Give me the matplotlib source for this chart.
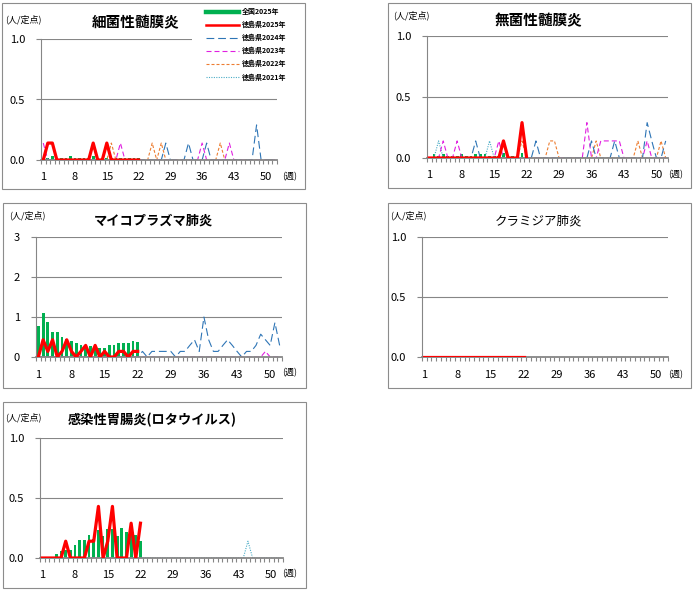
import numpy as np
import matplotlib
matplotlib.use("Agg")
import matplotlib.pyplot as plt
from matplotlib.patches import Rectangle
from matplotlib.lines import Line2D

plt.rcParams["font.family"] = ["Noto Sans CJK JP", "DejaVu Sans"]

W, H = 699, 590

WEEKS = np.arange(1, 53)
WEEK_TICKS = [1, 8, 15, 22, 29, 36, 43, 50]

LEGEND_LABELS = ["全国2025年", "徳島県2025年", "徳島県2024年",
                 "徳島県2023年", "徳島県2022年", "徳島県2021年"]

# --- 細菌性髄膜炎 ---
BACT_NAT25 = [0.02, 0.02, 0.03, 0.02, 0.02, 0.02, 0.03, 0.02, 0.02, 0.02, 0.02,
              0.03, 0.02, 0.02, 0.02, 0.02, 0.02, 0.02, 0.02, 0.02, 0.02, 0.02]
BACT_TOK25 = [0, 0.14, 0.14, 0, 0, 0, 0, 0, 0, 0, 0,
              0.14, 0, 0, 0.14, 0, 0, 0, 0, 0, 0, 0]
BACT_TOK24 = [0, 0, 0, 0, 0, 0, 0, 0, 0, 0, 0, 0, 0,
              0, 0, 0, 0, 0, 0, 0, 0, 0, 0, 0, 0, 0,
              0, 0.14, 0, 0, 0, 0, 0.14, 0, 0, 0, 0.14, 0, 0,
              0, 0, 0, 0, 0, 0, 0, 0, 0.29, 0, 0, 0, 0]
BACT_TOK23 = [0.14, 0, 0, 0, 0, 0, 0, 0, 0, 0, 0, 0, 0,
              0, 0, 0, 0, 0.14, 0, 0, 0, 0, 0, 0, 0, 0,
              0, 0, 0, 0, 0, 0, 0, 0, 0, 0.14, 0, 0, 0,
              0, 0, 0.14, 0, 0, 0, 0, 0, 0, 0, 0, 0, 0]
BACT_TOK22 = [0, 0, 0, 0, 0, 0, 0, 0, 0, 0, 0, 0, 0,
              0, 0, 0.14, 0, 0, 0, 0, 0, 0, 0, 0, 0.14, 0,
              0.14, 0, 0, 0, 0, 0, 0, 0, 0, 0, 0, 0, 0,
              0.14, 0, 0, 0, 0, 0, 0, 0, 0, 0, 0, 0, 0]

# --- 無菌性髄膜炎 ---
ASEP_NAT25 = [0.01, 0.03, 0.02, 0.03, 0.02, 0.02, 0.02, 0.03, 0.02, 0.02, 0.03,
              0.03, 0.03, 0.02, 0.02, 0.02, 0.04, 0.02, 0.02, 0.02, 0.04, 0.02]
ASEP_TOK25 = [0, 0, 0, 0, 0, 0, 0, 0, 0, 0, 0,
              0, 0, 0, 0, 0, 0.14, 0, 0, 0, 0.29, 0]
ASEP_TOK24 = [0, 0, 0, 0, 0, 0, 0, 0, 0, 0, 0.14, 0, 0,
              0, 0, 0, 0, 0, 0, 0, 0, 0, 0, 0.14, 0, 0,
              0, 0, 0, 0, 0, 0, 0, 0, 0, 0.14, 0, 0, 0,
              0, 0.14, 0, 0, 0, 0, 0, 0, 0.29, 0.14, 0, 0, 0.14]
ASEP_TOK23 = [0, 0, 0, 0.14, 0, 0, 0.14, 0, 0, 0, 0, 0, 0,
              0, 0, 0.14, 0, 0, 0, 0, 0, 0, 0, 0, 0, 0,
              0, 0, 0, 0, 0, 0, 0, 0, 0.29, 0, 0, 0.14, 0.14,
              0.14, 0.14, 0.14, 0, 0, 0, 0, 0, 0.14, 0, 0, 0, 0]
ASEP_TOK22 = [0, 0, 0, 0, 0, 0, 0, 0, 0, 0, 0, 0, 0,
              0, 0, 0, 0, 0, 0, 0, 0.14, 0, 0, 0, 0, 0,
              0.14, 0.14, 0, 0, 0, 0, 0, 0, 0, 0, 0.14, 0, 0,
              0, 0, 0, 0, 0, 0, 0.14, 0, 0, 0, 0, 0.14, 0]
ASEP_TOK21 = [0, 0, 0.14, 0, 0, 0, 0, 0, 0, 0, 0, 0, 0,
              0.14, 0, 0, 0, 0, 0, 0, 0, 0, 0, 0, 0, 0,
              0, 0, 0, 0, 0, 0, 0, 0, 0, 0, 0, 0, 0,
              0, 0, 0, 0, 0, 0, 0, 0, 0, 0, 0, 0, 0]

# --- マイコプラズマ肺炎 ---
MYCO_NAT25 = [0.78, 1.10, 0.87, 0.63, 0.63, 0.50, 0.46, 0.39, 0.36, 0.29, 0.28,
              0.27, 0.25, 0.23, 0.23, 0.31, 0.29, 0.34, 0.34, 0.34, 0.39, 0.37]
MYCO_TOK25 = [0, 0.43, 0.14, 0.43, 0, 0.14, 0.43, 0.14, 0, 0.14, 0.29,
              0, 0.29, 0, 0.14, 0, 0, 0.14, 0.14, 0, 0.14, 0.14]
MYCO_TOK24 = [0, 0, 0, 0, 0, 0, 0, 0, 0, 0, 0, 0, 0,
              0, 0, 0, 0, 0, 0, 0, 0, 0, 0.14, 0, 0.14, 0.14,
              0.14, 0.14, 0.14, 0, 0.14, 0.14, 0.29, 0.43, 0.14, 1.0, 0.43, 0.14, 0.14,
              0.29, 0.43, 0.29, 0.14, 0, 0.14, 0.14, 0.29, 0.57, 0.43, 0.29, 0.86, 0.29]
MYCO_TOK23 = [0, 0, 0, 0, 0, 0, 0, 0, 0, 0, 0, 0, 0,
              0, 0, 0, 0, 0, 0, 0, 0, 0, 0, 0, 0, 0,
              0, 0, 0, 0, 0, 0, 0, 0, 0, 0, 0, 0, 0,
              0, 0, 0, 0, 0, 0, 0, 0, 0, 0.14, 0, 0, 0]

# --- クラミジア肺炎 ---
CHLA_NAT25 = [0, 0, 0, 0, 0, 0, 0, 0, 0, 0, 0,
              0, 0, 0, 0, 0, 0, 0, 0, 0, 0, 0]
CHLA_TOK25 = [0, 0, 0, 0, 0, 0, 0, 0, 0, 0, 0,
              0, 0, 0, 0, 0, 0, 0, 0, 0, 0, 0]

# --- 感染性胃腸炎(ロタウイルス) ---
ROTA_NAT25 = [0.01, 0.01, 0.01, 0.03, 0.06, 0.07, 0.07, 0.11, 0.15, 0.15, 0.19,
              0.16, 0.23, 0.18, 0.24, 0.24, 0.18, 0.25, 0.22, 0.19, 0.19, 0.14]
ROTA_TOK25 = [0, 0, 0, 0, 0, 0.14, 0, 0, 0, 0, 0.14,
              0.14, 0.43, 0, 0.14, 0.43, 0, 0, 0, 0.29, 0, 0.29]
ROTA_TOK21 = [0, 0, 0, 0, 0, 0, 0, 0, 0, 0, 0, 0, 0,
              0, 0, 0, 0, 0, 0, 0, 0, 0, 0, 0, 0, 0,
              0, 0, 0, 0, 0, 0, 0, 0, 0, 0, 0, 0, 0,
              0, 0, 0, 0, 0, 0.14, 0, 0, 0, 0, 0, 0, 0]

C_NAT = "#00B050"
C_25 = "#FF0000"
GRID = "#868686"
BORDER = "#8c8c8c"
STYLES = {
    "2024": dict(color="#2E75B6", lw=0.8, dashes=(7, 3.5)),
    "2023": dict(color="#E020E0", lw=0.8, dashes=(4.5, 2.7)),
    "2022": dict(color="#ED7D31", lw=0.8, dashes=(2.7, 1.8)),
    "2021": dict(color="#4BACC6", lw=0.8, dashes=(1, 1.2)),
}


def to_fig(l, t, r, b):
    return [l / W, 1 - b / H, (r - l) / W, (b - t) / H]


def draw_panel(box, area, title, tpos, tsize, tweight, unit_xy, week_xy,
               ymax, yticks, ylabels, nat, tok25, past):
    fig.add_artist(Rectangle((box[0] / W, 1 - box[3] / H),
                             (box[2] - box[0]) / W, (box[3] - box[1]) / H,
                             transform=fig.transFigure, fill=False,
                             ec=BORDER, lw=0.8))
    ax = fig.add_axes(to_fig(*area))
    ax.bar(WEEKS[:len(nat)], nat, width=0.6, color=C_NAT, zorder=2)
    for vals, key in past:
        ax.plot(WEEKS[:len(vals)], vals, zorder=2, **STYLES[key])
    ax.plot(WEEKS[:len(tok25)], tok25, color=C_25, lw=2.3, zorder=3)

    ax.set_xlim(0.5, 52.5)
    ax.set_ylim(0, ymax)
    for s in ("top", "right"):
        ax.spines[s].set_visible(False)
    for s in ("left", "bottom"):
        ax.spines[s].set_color(GRID)
        ax.spines[s].set_zorder(2.6)
    ax.spines["left"].set_linewidth(0.8)
    # thicker bottom axis hides the zero stretches of the past-year lines
    ax.spines["bottom"].set_linewidth(1.3)
    ax.set_yticks(yticks)
    ax.set_yticklabels(ylabels)
    ax.yaxis.grid(True, color=GRID, lw=0.8)
    ax.set_axisbelow(True)
    ax.tick_params(axis="y", length=3.5, width=0.8, color=GRID, pad=8, labelsize=8)
    ax.set_xticks(WEEK_TICKS)
    ax.set_xticks(np.arange(0.5, 53, 1), minor=True)
    ax.tick_params(axis="x", which="major", length=0, pad=9, labelsize=8)
    ax.tick_params(axis="x", which="minor", length=3, width=0.8, color=GRID)

    fig.text(tpos[0] / W, 1 - tpos[1] / H, title, ha="center", va="center",
             fontsize=tsize, fontweight=tweight)
    fig.text(unit_xy[0] / W, 1 - unit_xy[1] / H, "(人/定点)", ha="left",
             va="center", fontsize=6.5)
    fig.text(week_xy[0] / W, 1 - week_xy[1] / H, "(週)", ha="left",
             va="center", fontsize=6.5)
    return ax


fig = plt.figure(figsize=(W / 100, H / 100), dpi=100)

ax1 = draw_panel((2, 3, 305, 189), (41, 39, 277, 160), "細菌性髄膜炎",
                 (136, 22), 10.5, "bold", (5, 19), (282, 177),
                 1.0, [0, 0.5, 1.0], ["0.0", "0.5", "1.0"],
                 BACT_NAT25, BACT_TOK25,
                 [(BACT_TOK22, "2022"), (BACT_TOK23, "2023"), (BACT_TOK24, "2024")])

draw_panel((388, 3, 691, 188), (427, 36, 668, 158), "無菌性髄膜炎",
           (538, 20), 10.5, "bold", (393, 15), (668, 175),
           1.0, [0, 0.5, 1.0], ["0.0", "0.5", "1.0"],
           ASEP_NAT25, ASEP_TOK25,
           [(ASEP_TOK21, "2021"), (ASEP_TOK22, "2022"),
            (ASEP_TOK23, "2023"), (ASEP_TOK24, "2024")])

draw_panel((3, 203, 306, 388), (36, 237, 282, 357), "マイコプラズマ肺炎",
           (153, 221), 9.5, "bold", (9, 215), (282, 373),
           3, [0, 1, 2, 3], ["0", "1", "2", "3"],
           MYCO_NAT25, MYCO_TOK25,
           [(MYCO_TOK23, "2023"), (MYCO_TOK24, "2024")])

draw_panel((388, 203, 691, 388), (422, 237, 668, 357), "クラミジア肺炎",
           (539, 221), 9, "normal", (390, 215), (668, 375),
           1.0, [0, 0.5, 1.0], ["0.0", "0.5", "1.0"],
           CHLA_NAT25, CHLA_TOK25, [])

draw_panel((3, 402, 306, 588), (40, 438, 283, 558), "感染性胃腸炎(ロタウイルス)",
           (152, 420), 9.5, "bold", (5, 417), (282, 574),
           1.0, [0, 0.5, 1.0], ["0.0", "0.5", "1.0"],
           ROTA_NAT25, ROTA_TOK25, [(ROTA_TOK21, "2021")])

# legend sits on a white block that hides the right part of the top gridline
ax1.add_patch(Rectangle((192 / W, 1 - 88 / H), 110 / W, 82 / H,
                        transform=fig.transFigure, fc="white", ec="none",
                        zorder=4, clip_on=False))
handles = [Line2D([], [], color=C_NAT, lw=3.2),
           Line2D([], [], color=C_25, lw=1.8)]
handles += [Line2D([], [], **STYLES[k]) for k in ("2024", "2023", "2022", "2021")]
leg = ax1.legend(handles, LEGEND_LABELS, loc="upper left",
                 bbox_to_anchor=(206 / W, 1 - 8 / H),
                 bbox_transform=fig.transFigure, frameon=False,
                 prop={"size": 5, "weight": "bold"}, handlelength=4.8,
                 handletextpad=0.4, labelspacing=0.82, borderpad=0,
                 borderaxespad=0)
leg.set_zorder(5)

fig.savefig("out.png", dpi=100)
